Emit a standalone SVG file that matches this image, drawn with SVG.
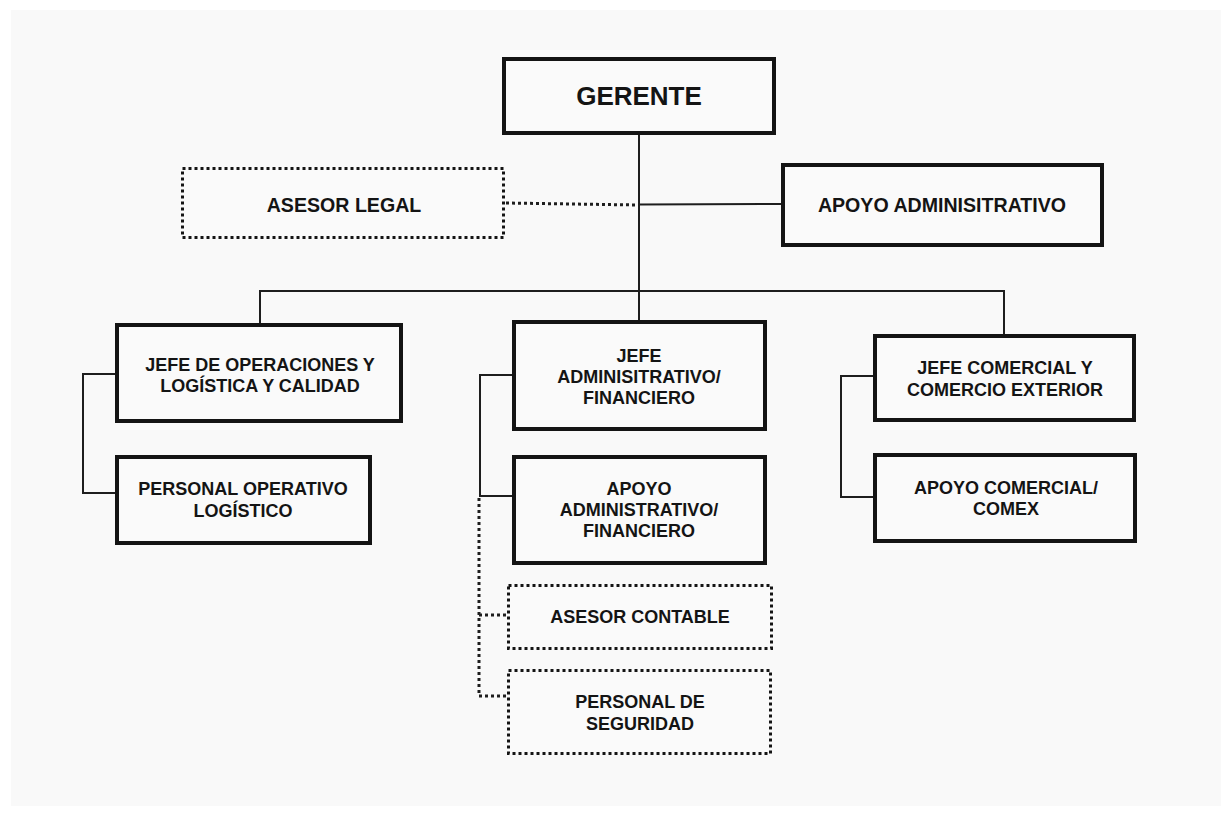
<svg xmlns="http://www.w3.org/2000/svg" width="1232" height="817" viewBox="0 0 1232 817">
<style>
.box{fill:#fafafa;stroke:#141414;stroke-width:4}
.dbox{fill:#fafafa;stroke:#141414;stroke-width:3;stroke-dasharray:3 3}
.ln{fill:none;stroke:#1e1e1e;stroke-width:2}
.dl{fill:none;stroke:#1e1e1e;stroke-width:3;stroke-dasharray:3 3}
text{font-family:"Liberation Sans",Arial,sans-serif;font-weight:bold;fill:#141414;text-anchor:middle}
.t1{font-size:26px}
.t2{font-size:19.6px}
.t3{font-size:18px}
</style>
<rect x="0" y="0" width="1232" height="817" fill="#ffffff"/>
<rect x="11" y="10" width="1210" height="796" fill="#f9f9f9"/>
<g id="connectors">
<line class="ln" x1="639" y1="135" x2="639" y2="291"/>
<line class="dl" x1="506" y1="203" x2="638" y2="205"/>
<line class="ln" x1="639" y1="204.5" x2="781" y2="204"/>
<polyline class="ln" points="260,323 260,291 1004,291 1004,334"/>
<line class="ln" x1="639" y1="291" x2="639" y2="320"/>
<polyline class="ln" points="115,374 83,374 83,493 115,493"/>
<polyline class="ln" points="512,375 480,375 480,496 512,496"/>
<polyline class="dl" points="479,498 479,696 507,696"/>
<line class="dl" x1="479" y1="615" x2="507" y2="615"/>
<polyline class="ln" points="873,376 841,376 841,497 873,497"/>
</g>
<g id="gerente">
<rect class="box" x="504" y="59" width="270" height="74"/>
<text class="t1" x="639" y="105">GERENTE</text>
</g>
<g id="asesor-legal">
<rect class="dbox" x="182.5" y="168.5" width="321" height="69"/>
<text class="t2" x="344" y="212">ASESOR LEGAL</text>
</g>
<g id="apoyo-administrativo">
<rect class="box" x="783" y="165" width="319" height="80"/>
<text class="t2" x="942" y="212">APOYO ADMINISITRATIVO</text>
</g>
<g id="jefe-operaciones">
<rect class="box" x="117" y="325" width="284" height="96"/>
<text class="t3" x="260" y="371">JEFE DE OPERACIONES Y</text>
<text class="t3" x="260" y="392">LOGÍSTICA Y CALIDAD</text>
</g>
<g id="personal-operativo">
<rect class="box" x="117" y="457" width="253" height="86"/>
<text class="t3" x="243" y="495">PERSONAL OPERATIVO</text>
<text class="t3" x="243" y="517">LOGÍSTICO</text>
</g>
<g id="jefe-administrativo">
<rect class="box" x="514" y="322" width="251" height="107"/>
<text class="t3" x="639" y="362">JEFE</text>
<text class="t3" x="639" y="383">ADMINISITRATIVO/</text>
<text class="t3" x="639" y="404">FINANCIERO</text>
</g>
<g id="apoyo-admin-financiero">
<rect class="box" x="514" y="457" width="251" height="106"/>
<text class="t3" x="639" y="495">APOYO</text>
<text class="t3" x="639" y="516">ADMINISTRATIVO/</text>
<text class="t3" x="639" y="537">FINANCIERO</text>
</g>
<g id="asesor-contable">
<rect class="dbox" x="508.5" y="585.5" width="263" height="63"/>
<text class="t3" x="640" y="623">ASESOR CONTABLE</text>
</g>
<g id="personal-seguridad">
<rect class="dbox" x="508.5" y="670.5" width="262" height="83"/>
<text class="t3" x="640" y="708">PERSONAL DE</text>
<text class="t3" x="640" y="730">SEGURIDAD</text>
</g>
<g id="jefe-comercial">
<rect class="box" x="875" y="336" width="259" height="84"/>
<text class="t3" x="1005" y="374">JEFE COMERCIAL Y</text>
<text class="t3" x="1005" y="396">COMERCIO EXTERIOR</text>
</g>
<g id="apoyo-comercial">
<rect class="box" x="875" y="455" width="260" height="86"/>
<text class="t3" x="1006" y="494">APOYO COMERCIAL/</text>
<text class="t3" x="1006" y="515">COMEX</text>
</g>
</svg>
